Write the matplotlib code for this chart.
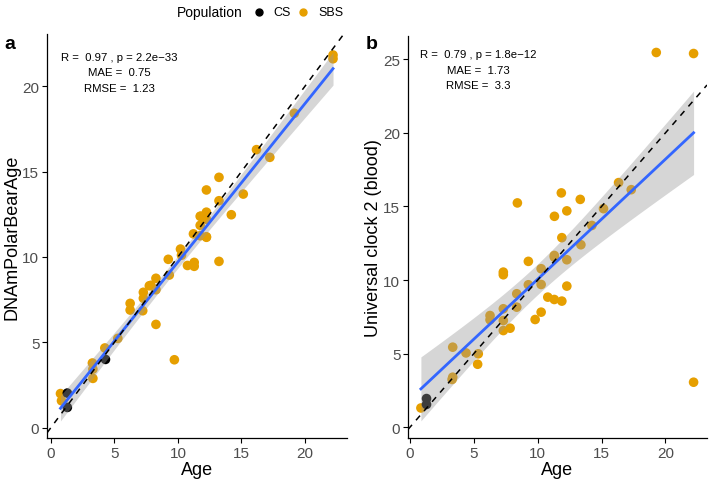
import numpy as np
import matplotlib
matplotlib.use("Agg")
import matplotlib.pyplot as plt
from matplotlib.lines import Line2D

plt.rcParams['font.family'] = ['Liberation Sans', 'DejaVu Sans']

# ---- Panel a data (DNAmPolarBearAge) ----
a_cs_age = [1.3, 1.3, 4.3]
a_cs_val = [2.03, 1.19, 4.0]
a_sbs_age = [0.76, 0.84, 3.27, 3.31, 3.31, 4.25, 5.27, 6.24, 6.24, 7.28, 7.28, 7.23,
             7.75, 8.27, 8.27, 8.27, 7.88, 9.24, 9.32, 9.72, 10.2, 10.28, 10.75, 11.28,
             11.28, 13.23, 11.22, 11.75, 12.24, 12.24, 11.75, 11.8, 12.24, 11.75, 12.24,
             12.24, 13.23, 13.23, 14.2, 15.14, 16.18, 17.23, 19.16, 22.2, 22.2]
a_sbs_val = [2.0, 1.58, 3.79, 2.89, 3.43, 4.67, 5.23, 7.28, 6.89, 7.93, 7.58, 6.85,
             8.31, 8.75, 8.08, 6.05, 8.34, 9.86, 8.94, 3.98, 10.46, 10.1, 9.5, 9.68,
             9.45, 9.74, 11.35, 11.24, 11.15, 12.2, 11.85, 12.38, 12.62, 12.38, 11.18,
             13.92, 14.66, 13.29, 12.47, 13.68, 16.28, 15.83, 18.41, 21.82, 21.6]

# ---- Panel b data (Universal clock 2 (blood)) ----
b_cs_age = [1.3, 1.3]
b_cs_val = [1.95, 1.55]
b_sbs_age = [0.86, 3.35, 3.35, 3.3, 4.39, 5.35, 5.3, 6.27, 6.27, 7.31, 7.31, 7.31,
             7.31, 7.31, 7.84, 8.36, 8.36, 8.41, 9.27, 9.27, 9.8, 10.27, 10.27, 10.27,
             10.79, 11.3, 11.3, 11.89, 11.89, 12.28, 12.28, 13.38, 11.31, 11.85, 12.28,
             13.33, 14.24, 15.15, 16.33, 17.32, 19.28, 22.2, 22.2, 11.3]
b_sbs_val = [1.31, 5.44, 3.4, 3.25, 5.05, 4.99, 4.28, 7.59, 7.3, 10.54, 10.36, 8.05,
             7.25, 6.57, 6.73, 9.07, 8.16, 15.24, 11.27, 9.68, 7.32, 10.77, 9.7, 7.82,
             8.84, 11.56, 8.68, 8.57, 12.88, 11.38, 9.59, 12.4, 14.33, 15.92, 14.7,
             15.48, 13.71, 14.85, 16.62, 16.14, 25.46, 25.39, 3.06, 11.67]

stats_a = ["R =  0.97 , p = 2.2e\u221233", "MAE =  0.75", "RMSE =  1.23"]
stats_b = ["R =  0.79 , p = 1.8e\u221212", "MAE =  1.73", "RMSE =  3.3"]

legend_title = "Population"
legend_labels = ["CS", "SBS"]

ORANGE = "#E69F00"
BLACK = "#000000"
TICKC = "#4D4D4D"

fig = plt.figure(figsize=(7.09, 4.81), dpi=100)


def panel(rect, cs_age, cs_val, sbs_age, sbs_val, xlim, ylim, yticks, ylabel, stats, stat_xy, letter):
    ax = fig.add_axes(rect)
    ax.scatter(sbs_age, sbs_val, s=48, color=ORANGE, edgecolors='none', zorder=2)
    ax.scatter(cs_age, cs_val, s=48, color=BLACK, edgecolors='none', zorder=2)
    x = np.array(list(cs_age) + list(sbs_age))
    y = np.array(list(cs_val) + list(sbs_val))
    n = len(x)
    slope, icpt = np.polyfit(x, y, 1)
    resid = y - (slope * x + icpt)
    s = np.sqrt(np.sum(resid ** 2) / (n - 2))
    xs = np.linspace(x.min(), x.max(), 100)
    fit = slope * xs + icpt
    se = s * np.sqrt(1.0 / n + (xs - x.mean()) ** 2 / np.sum((x - x.mean()) ** 2))
    tcrit = 2.01
    ax.fill_between(xs, fit - tcrit * se, fit + tcrit * se, color="#999999", alpha=0.4,
                    linewidth=0, zorder=3)
    ax.plot(xs, fit, color="#3366FF", lw=2.0, zorder=4)
    ax.axline((0, 0), slope=1, color="black", lw=1.1, ls=(0, (4, 4)), zorder=5)
    ax.set_xlim(*xlim)
    ax.set_ylim(*ylim)
    ax.set_xticks([0, 5, 10, 15, 20])
    ax.set_yticks(yticks)
    for sp in ['top', 'right']:
        ax.spines[sp].set_visible(False)
    for sp in ['left', 'bottom']:
        ax.spines[sp].set_linewidth(0.9)
    ax.tick_params(axis='both', length=3.5, width=0.8, color='black', labelsize=11,
                   labelcolor=TICKC, pad=2)
    ax.set_xlabel("Age", fontsize=13, labelpad=1)
    ax.set_ylabel(ylabel, fontsize=13, labelpad=1)
    for i, t in enumerate(stats):
        fig.text(stat_xy[0], stat_xy[1] - i * 15.5 / 481, t, fontsize=8.2,
                 ha='center', va='center')
    fig.text(letter[1], letter[2], letter[0], fontsize=14, fontweight='bold',
             ha='left', va='center')
    return ax


panel([47 / 709, 1 - 439 / 481, 300 / 709, 404 / 481],
      a_cs_age, a_cs_val, a_sbs_age, a_sbs_val,
      (-0.3, 23.3), (-0.6, 23.05), [0, 5, 10, 15, 20], "DNAmPolarBearAge",
      stats_a, (119 / 709, 1 - 58 / 481), ("a", 4 / 709, 1 - 45 / 481))

panel([408 / 709, 1 - 439.3 / 481, 299 / 709, 402.6 / 481],
      b_cs_age, b_cs_val, b_sbs_age, b_sbs_val,
      (-0.15, 23.25), (-0.75, 26.6), [0, 5, 10, 15, 20, 25], "Universal clock 2 (blood)",
      stats_b, (478.5 / 709, 1 - 55 / 481), ("b", 366 / 709, 1 - 45 / 481))

# ---- top legend, drawn in figure coordinates ----
ly = 1 - 13 / 481
fig.text(243 / 709, ly, legend_title, fontsize=10, ha='right', va='center')
for px, col, lab, tx in [(259, BLACK, legend_labels[0], 273), (303, ORANGE, legend_labels[1], 318)]:
    fig.add_artist(Line2D([px / 709], [ly], marker='o', ls='none', color=col,
                          markersize=5, transform=fig.transFigure))
    fig.text(tx / 709, ly, lab, fontsize=9, ha='left', va='center')

fig.savefig("out.png", dpi=100)
